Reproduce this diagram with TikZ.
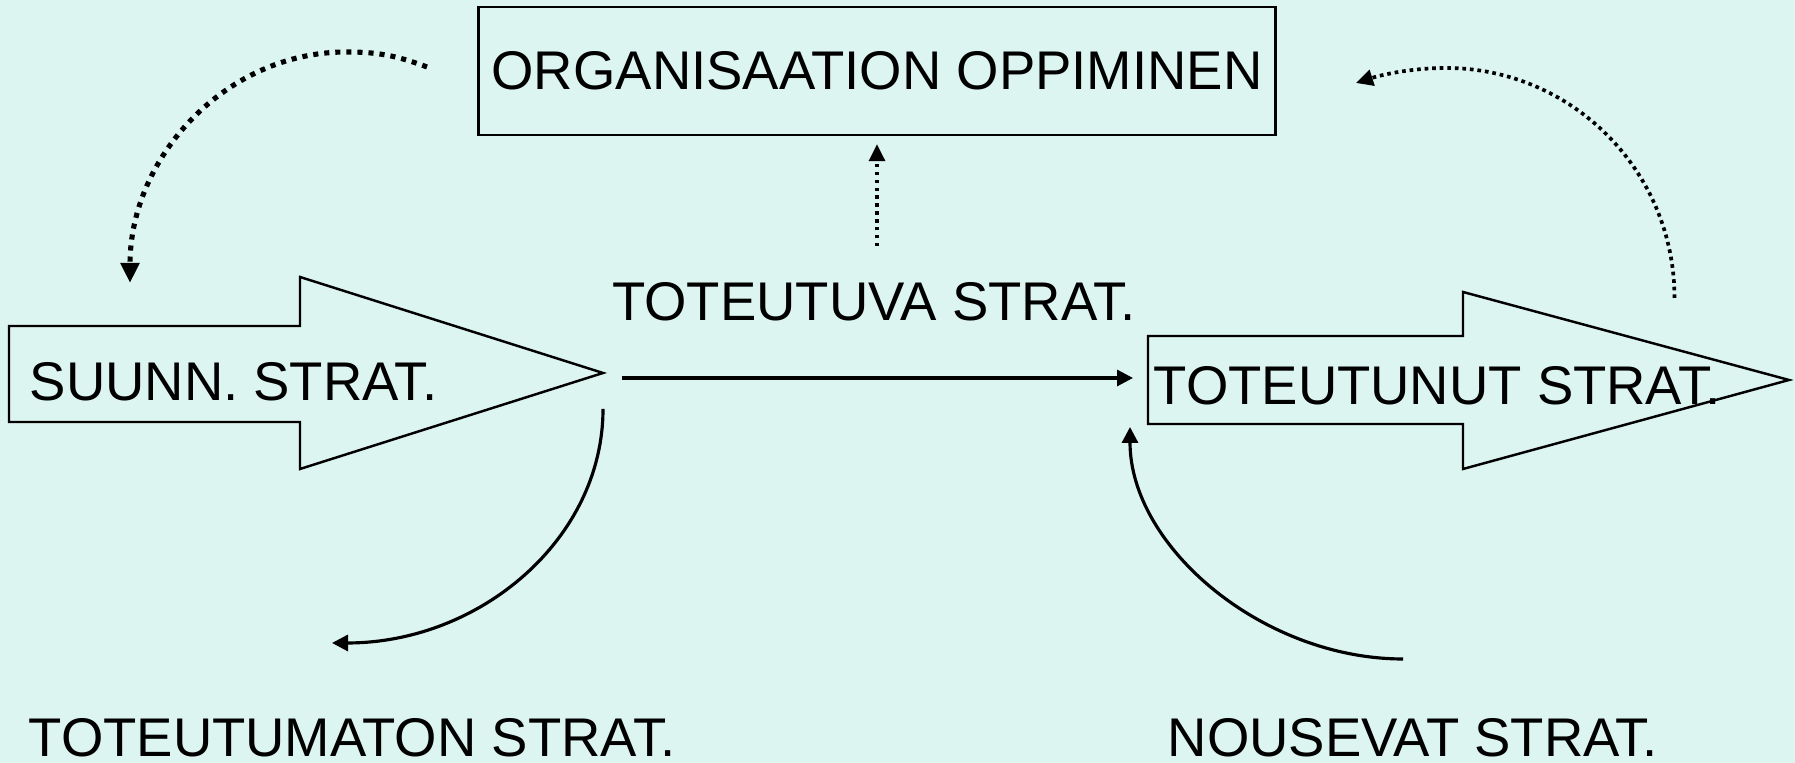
\documentclass[tikz,border=0pt]{standalone}
\usepackage{fontspec}
\setmainfont{Liberation Sans}
\usetikzlibrary{arrows.meta,positioning}
\definecolor{mint}{RGB}{221,245,240}

\begin{document}
\begin{tikzpicture}[
    label/.style={inner sep=0pt, font=\fontsize{15.5}{18}\selectfont},
    bigarrow/.style={draw, line width=0.7pt},
    flow/.style={line width=0.9pt, -{Triangle[length=1.6mm,width=1.6mm]}},
    thickdots/.style={line width=1.45pt, dash pattern=on 1.45pt off 1.7pt,
        -{Triangle[length=2mm,width=1.8mm]}},
    thindots/.style={line width=1.05pt, dash pattern=on 1.05pt off 1.1pt,
        -{Triangle[length=1.7mm,width=1.6mm]}}]
    % slide background
    \fill[mint] (0,0) rectangle (17.95,7.63);
    \useasboundingbox (0,0) rectangle (17.95,7.63);

    \node[label, draw, line width=0.7pt, minimum width=7.97cm, minimum height=1.28cm]
        (oppiminen) at (8.77,6.92) {ORGANISAATION OPPIMINEN};

    % the two block arrows
    \draw[bigarrow] (0.09,4.37) -- (3.00,4.37) -- (3.00,4.86) -- (6.03,3.90) coordinate (suunn tip)
        -- (3.00,2.94) -- (3.00,3.41) -- (0.09,3.41) -- cycle;
    \draw[bigarrow] (11.48,4.27) -- (14.63,4.27) -- (14.63,4.71) -- (17.89,3.83)
        -- (14.63,2.94) -- (14.63,3.39) -- (11.48,3.39) -- cycle;

    \node[label, anchor=base west] (suunn) at (0.29,3.62) {SUUNN. STRAT.};
    \node[label, anchor=base west] (toteutunut) at (11.53,3.58) {TOTEUTUNUT STRAT.};
    \node[label, anchor=base] (toteutuva) at (8.74,4.42) {TOTEUTUVA STRAT.};
    \node[label, anchor=base west] (toteutumaton) at (0.28,0.06) {TOTEUTUMATON STRAT.};
    \node[label, anchor=base west] (nousevat) at (11.67,0.06) {NOUSEVAT STRAT.};

    % connector ends
    \coordinate (realised in) at (11.48,3.85);
    \coordinate (unrealised) at (3.32,1.20);
    \coordinate (emergent) at (14.03,1.04);
    \coordinate (realised low) at (11.30,3.36);
    \coordinate (learn planned) at (1.30,4.80);
    \coordinate (learn left) at (4.27,6.96);
    \coordinate (learn right) at (13.56,6.80);
    \coordinate (realised top) at (16.745,4.65);

    \draw[flow, shorten <=1.9mm, shorten >=1.5mm] (suunn tip |- realised in) -- (realised in);
    \draw[flow] ([yshift=-3.6mm]suunn tip) .. controls +(0,-1.30) and +(1.48,0) .. (unrealised);
    \draw[flow] (emergent) .. controls +(-1.40,0) and +(0,-1.20) .. (realised low);

    % learning loops
    \draw[thindots, line width=0.95pt, dash pattern=on 0.95pt off 1.3pt, shorten <=3.6mm, shorten >=0.8mm]
        (toteutuva.north -| oppiminen.south) -- (oppiminen.south);
    \draw[thickdots] (learn left) .. controls +(-0.32,0.12) and +(0.30,0) .. (3.46,7.11)
        .. controls +(-1.19,0) and +(0,1.27) .. (learn planned);
    \draw[thindots] (realised top) .. controls +(0,1.27) and +(1.26,0) .. (14.46,6.95)
        .. controls +(-0.35,0) and +(0.25,0.08) .. (learn right);
\end{tikzpicture}
\end{document}
